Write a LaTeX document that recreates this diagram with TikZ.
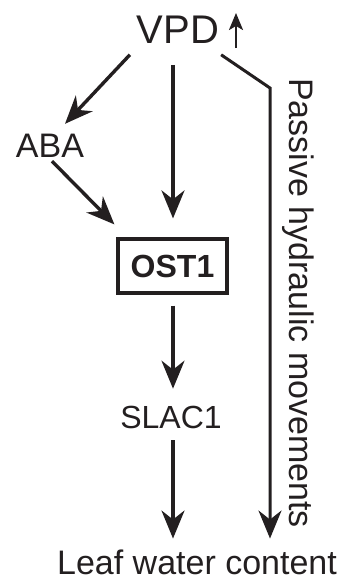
\documentclass[tikz,border=0pt]{standalone}
\usepackage{fontspec}
\setmainfont{Liberation Sans}
\usetikzlibrary{arrows.meta,calc}
\definecolor{ink}{HTML}{231F20}
\tikzset{
  lbl/.style={inner sep=0pt, outer sep=0pt, text=ink, font=\fontsize{34}{40}\selectfont},
  arr/.style={draw=ink, line width=3.4pt, -{Stealth[length=28pt, width=23pt, inset=9pt]}},
  boxed/.style={draw=ink, text=ink, line width=3.2pt, minimum width=109pt, minimum height=54pt, inner sep=0pt, font=\fontsize{32}{38}\selectfont\bfseries}
}
\begin{document}
\begin{tikzpicture}[x=1pt,y=-1pt]
\useasboundingbox (0,0) rectangle (341,581);
\node[lbl, font=\fontsize{40}{46}\selectfont] (vpd) at (178,30) {VPD};
\coordinate (upb) at (236,48);
\coordinate (upt) at (236,13);
\draw[draw=ink, line width=2.4pt, -{Stealth[length=17pt, width=14pt, inset=4pt]}] (upb) -- (upt);
\node[lbl] (aba) at (50,145.5) {ABA};
\node[boxed] (ost) at (172.5,266) {OST1};
\node[lbl, font=\fontsize{32}{38}\selectfont] (slac) at (171,417) {SLAC1};
\node[lbl] (leaf) at (197,562) {Leaf water content};
\node[lbl, rotate=-90, anchor=base] (pass) at (289,303) {Passive hydraulic movements};
\coordinate (bend) at (270,88);
% connectors
\draw[arr] ($(vpd.south west)+(-7,11)$) -- ($(aba.north)+(15,-10)$);
\draw[arr] ($(vpd.south)+(-5,21)$) -- ($(ost.north)+(0.5,-19)$);
\draw[arr] ($(aba.south)+(2,4)$) -- ($(ost.north west)+(-2,-13)$);
\draw[arr] ($(ost.south)+(0.5,11)$) -- ($(slac.north)+(2,-17)$);
\draw[arr] ($(slac.south)+(2,12)$) -- ($(leaf.north)+(-24,-11)$);
\draw[arr, line width=3pt] ($(vpd.south east)+(2,11)$) -- (bend) -- ($(leaf.north)+(73,-11)$);
\end{tikzpicture}
\end{document}
